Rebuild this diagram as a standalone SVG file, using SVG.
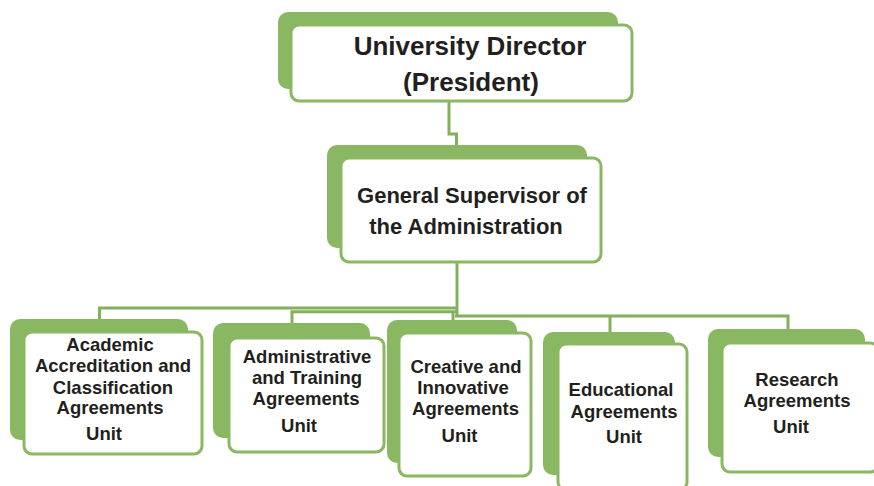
<svg xmlns="http://www.w3.org/2000/svg" width="874" height="486" viewBox="0 0 874 486">
<style>
.back{fill:#8ab862;stroke:none}
.front{fill:#ffffff;stroke:#8ab862;stroke-width:3}
.conn{fill:none;stroke:#84b05c;stroke-width:3}
text{font-family:"Liberation Sans",Arial,sans-serif;font-weight:bold;fill:#231f20;text-anchor:middle}
.t1{font-size:26px}
.t2{font-size:22px}
.t3{font-size:18.5px}
</style>
<rect width="874" height="486" fill="#ffffff"/>
<g id="connectors">
<path class="conn" d="M449,101 V134 H456.5 V145"/>
<path class="conn" d="M457,262 V316"/>
<path class="conn" d="M457,308 H99.5 V319"/>
<path class="conn" stroke-width="2.5" d="M457,311.8 H292 V323"/>
<path class="conn" stroke-width="2.5" d="M453,311 V321"/>
<path class="conn" d="M455,316 H788 V329"/>
<path class="conn" d="M610,316 V332"/>
</g>
<g id="director">
<rect class="back" x="278" y="12" width="340" height="77" rx="10"/>
<rect class="front" x="291" y="25" width="341" height="76" rx="8"/>
<text class="t1" x="470" y="55">University Director</text>
<text class="t1" x="471" y="91">(President)</text>
</g>
<g id="supervisor">
<rect class="back" x="327" y="145" width="260" height="103" rx="10"/>
<rect class="front" x="341" y="158" width="260" height="104" rx="8"/>
<text class="t2" x="472" y="203">General Supervisor of</text>
<text class="t2" x="466" y="234">the Administration</text>
</g>
<g id="academic">
<rect class="back" x="10" y="319" width="178" height="121" rx="10"/>
<rect class="front" x="24" y="332" width="178" height="122" rx="8"/>
<text class="t3" x="110" y="351">Academic</text>
<text class="t3" x="113" y="372">Accreditation and</text>
<text class="t3" x="113" y="394">Classification</text>
<text class="t3" x="110" y="414">Agreements</text>
<text class="t3" x="104" y="440">Unit</text>
</g>
<g id="administrative">
<rect class="back" x="213" y="323" width="157" height="115" rx="10"/>
<rect class="front" x="229" y="338" width="155" height="114" rx="8"/>
<text class="t3" x="307" y="363">Administrative</text>
<text class="t3" x="307" y="384">and Training</text>
<text class="t3" x="306" y="405">Agreements</text>
<text class="t3" x="299" y="432">Unit</text>
</g>
<g id="creative">
<rect class="back" x="387" y="320" width="130" height="143" rx="10"/>
<rect class="front" x="399" y="333" width="132" height="143" rx="8"/>
<text class="t3" x="466" y="373">Creative and</text>
<text class="t3" x="463" y="394">Innovative</text>
<text class="t3" x="465.5" y="415">Agreements</text>
<text class="t3" x="459.5" y="442">Unit</text>
</g>
<g id="educational">
<rect class="back" x="543" y="332" width="132" height="143" rx="10"/>
<rect class="front" x="558" y="344" width="129" height="146" rx="8"/>
<text class="t3" x="621" y="396">Educational</text>
<text class="t3" x="624" y="418">Agreements</text>
<text class="t3" x="624" y="443">Unit</text>
</g>
<g id="research">
<rect class="back" x="708" y="329" width="157" height="128" rx="10"/>
<rect class="front" x="722" y="343" width="156" height="129" rx="8"/>
<text class="t3" x="797" y="386">Research</text>
<text class="t3" x="797" y="407">Agreements</text>
<text class="t3" x="791" y="433">Unit</text>
</g>
</svg>
